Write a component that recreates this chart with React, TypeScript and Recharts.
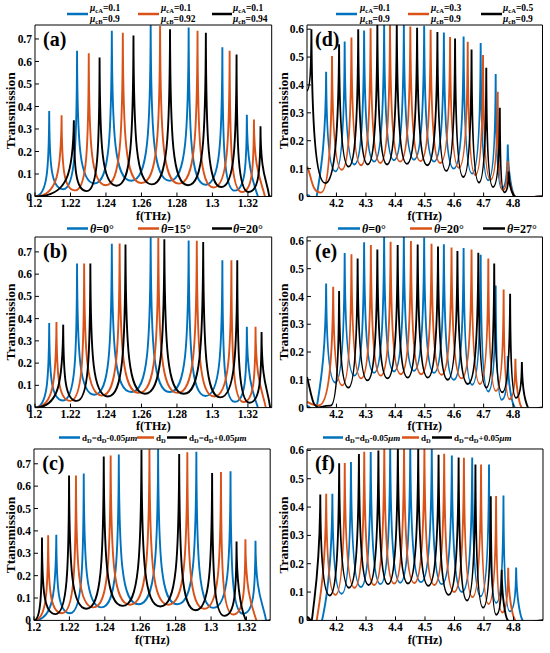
import React from 'react';
import { LineChart, Line, XAxis, YAxis } from 'recharts';

const FONT = '"Liberation Serif", "Times New Roman", Times, serif';
const BLUE = '#0072BD';
const ORANGE = '#D95319';
const BLACK = '#000000';

// ---------- axis ticks ----------
const lowXTicks = [1.2, 1.22, 1.24, 1.26, 1.28, 1.3, 1.32];
const lowYTicks = [0, 0.1, 0.2, 0.3, 0.4, 0.5, 0.6, 0.7];
const highXTicks = [4.2, 4.3, 4.4, 4.5, 4.6, 4.7, 4.8];
const highYTicks = [0, 0.1, 0.2, 0.3, 0.4, 0.5, 0.6];

// ---------- low band (a)(b)(c): peak f, peak T, dip T between peaks ----------
// reference curve: muCB=0.9 / theta=0 / dD
const lowRefPeakF = [1.208, 1.2237, 1.2433, 1.2652, 1.2866, 1.3056, 1.3194];
const lowRefPeakT = [0.38, 0.648, 0.737, 0.765, 0.751, 0.663, 0.363];
const lowRefDipT = [0.032, 0.058, 0.07, 0.07, 0.052, 0.026];
const lowRefHead = [[1.2, 0]];
const lowRefTail = [[1.3255, 0.003], [1.3334, 0]];

// (a) muCB = 0.92
const aMu92PeakF = [1.215, 1.2303, 1.2495, 1.2705, 1.2916, 1.3097, 1.3234];
const aMu92PeakT = [0.361, 0.636, 0.728, 0.758, 0.737, 0.648, 0.342];
const aMu92DipT = [0.027, 0.05, 0.06, 0.057, 0.04, 0.02];
const aMu92Head = [[1.2, 0]];
const aMu92Tail = [[1.3295, 0.003], [1.3334, 0]];

// (a) muCB = 0.94
const aMu94PeakF = [1.2219, 1.2364, 1.2555, 1.2761, 1.2963, 1.3136, 1.3271];
const aMu94PeakT = [0.339, 0.618, 0.715, 0.743, 0.728, 0.631, 0.312];
const aMu94DipT = [0.024, 0.048, 0.054, 0.05, 0.042, 0.02];
const aMu94Head = [[1.2, 0]];
const aMu94Tail = [[1.332, 0.002], [1.3334, 0]];

// (b) theta = 15
const bTh15PeakF = [1.2121, 1.2277, 1.2477, 1.2695, 1.2912, 1.3107, 1.3243];
const bTh15PeakT = [0.385, 0.648, 0.738, 0.763, 0.75, 0.663, 0.363];
const bTh15DipT = [0.03, 0.054, 0.066, 0.066, 0.05, 0.025];
const bTh15Head = [[1.2, 0]];
const bTh15Tail = [[1.33, 0.003], [1.3334, 0]];

// (b) theta = 20
const bTh20PeakF = [1.2159, 1.2312, 1.251, 1.2729, 1.2948, 1.314, 1.3277];
const bTh20PeakT = [0.373, 0.648, 0.733, 0.757, 0.745, 0.663, 0.34];
const bTh20DipT = [0.03, 0.05, 0.062, 0.062, 0.046, 0.022];
const bTh20Head = [[1.2, 0]];
const bTh20Tail = [[1.3325, 0.002], [1.3334, 0]];

// (c) dD - 0.05
const cMinusPeakF = [1.2126, 1.2281, 1.2479, 1.2701, 1.2917, 1.311, 1.3251];
const cMinusPeakT = [0.383, 0.656, 0.741, 0.766, 0.754, 0.666, 0.356];
const cMinusDipT = [0.032, 0.058, 0.072, 0.072, 0.056, 0.03];
const cMinusHead = [[1.2, 0]];
const cMinusTail = [[1.331, 0.003], [1.3334, 0]];

// (c) dD + 0.05
const cPlusPeakF = [1.2045, 1.2198, 1.2394, 1.2607, 1.282, 1.3006, 1.3144];
const cPlusPeakT = [0.371, 0.647, 0.733, 0.763, 0.744, 0.659, 0.353];
const cPlusDipT = [0.028, 0.052, 0.065, 0.062, 0.045, 0.02];
const cPlusHead = [[1.2, 0]];
const cPlusTail = [[1.3195, 0.003], [1.3334, 0]];

// ---------- high band (d)(e)(f) ----------
// reference curve: muCA=0.1 / theta=0 / dD
const highRefPeakF = [4.165, 4.228, 4.294, 4.362, 4.429, 4.498, 4.565, 4.632, 4.69, 4.741, 4.782];
const highRefPeakT = [0.447, 0.556, 0.595, 0.62, 0.62, 0.612, 0.588, 0.574, 0.55, 0.439, 0.186];
const highRefDipT = [0.09, 0.115, 0.125, 0.13, 0.132, 0.125, 0.1, 0.082, 0.058, 0.028];
const highRefHead = [[4.1, 0.006], [4.135, 0.014]];
const highRefTail = [[4.805, 0.002], [4.9, 0]];

// (d) muCA = 0.3
const dMu3PeakF = [4.185, 4.251, 4.316, 4.382, 4.451, 4.52, 4.586, 4.646, 4.698, 4.748, 4.782];
const dMu3PeakT = [0.504, 0.57, 0.603, 0.62, 0.61, 0.598, 0.572, 0.555, 0.507, 0.376, 0.127];
const dMu3DipT = [0.096, 0.112, 0.12, 0.125, 0.127, 0.12, 0.103, 0.077, 0.06, 0.022];
const dMu3Head = [[4.1, 0.108], [4.147, 0.014]];
const dMu3Tail = [[4.805, 0.002], [4.9, 0]];

// (d) muCA = 0.5
const dMu5PeakF = [4.115, 4.209, 4.274, 4.339, 4.405, 4.474, 4.543, 4.603, 4.659, 4.709, 4.755, 4.785];
const dMu5PeakT = [0.6, 0.546, 0.6, 0.62, 0.62, 0.605, 0.59, 0.567, 0.527, 0.462, 0.318, 0.09];
const dMu5DipT = [0.048, 0.107, 0.115, 0.115, 0.117, 0.112, 0.092, 0.07, 0.05, 0.034, 0.015];
const dMu5Head = [[4.1, 0.38]];
const dMu5Tail = [[4.805, 0.001], [4.9, 0]];

// (e) theta = 20
const eTh20PeakF = [4.189, 4.251, 4.317, 4.384, 4.453, 4.523, 4.591, 4.659, 4.716, 4.768, 4.808];
const eTh20PeakT = [0.435, 0.552, 0.585, 0.597, 0.6, 0.59, 0.576, 0.569, 0.537, 0.425, 0.176];
const eTh20DipT = [0.08, 0.105, 0.115, 0.12, 0.12, 0.118, 0.105, 0.085, 0.06, 0.03];
const eTh20Head = [[4.1, 0.02], [4.14, 0.008]];
const eTh20Tail = [[4.828, 0.002], [4.9, 0]];

// (e) theta = 27
const eTh27PeakF = [4.209, 4.272, 4.339, 4.408, 4.476, 4.545, 4.611, 4.682, 4.736, 4.79, 4.83];
const eTh27PeakT = [0.42, 0.537, 0.569, 0.585, 0.587, 0.58, 0.564, 0.557, 0.519, 0.41, 0.164];
const eTh27DipT = [0.072, 0.098, 0.105, 0.108, 0.108, 0.1, 0.085, 0.072, 0.055, 0.035];
const eTh27Head = [[4.1, 0.11], [4.125, 0.012], [4.18, 0.007]];
const eTh27Tail = [[4.85, 0.002], [4.9, 0]];

// (f) dD - 0.05
const fMinusPeakF = [4.186, 4.249, 4.316, 4.382, 4.45, 4.523, 4.591, 4.66, 4.717, 4.766, 4.809];
const fMinusPeakT = [0.447, 0.559, 0.594, 0.62, 0.62, 0.612, 0.582, 0.575, 0.55, 0.441, 0.187];
const fMinusDipT = [0.094, 0.118, 0.128, 0.133, 0.135, 0.128, 0.1, 0.085, 0.062, 0.032];
const fMinusHead = [[4.1, 0.005], [4.155, 0.02]];
const fMinusTail = [[4.83, 0.002], [4.9, 0]];

// (f) dD + 0.05
const fPlusPeakF = [4.145, 4.209, 4.276, 4.342, 4.408, 4.477, 4.546, 4.614, 4.671, 4.723, 4.76];
const fPlusPeakT = [0.444, 0.555, 0.587, 0.6, 0.62, 0.605, 0.585, 0.575, 0.55, 0.438, 0.179];
const fPlusDipT = [0.088, 0.115, 0.125, 0.128, 0.13, 0.122, 0.09, 0.07, 0.045, 0.02];
const fPlusHead = [[4.1, 0.012], [4.12, 0.03]];
const fPlusTail = [[4.78, 0.002], [4.9, 0]];

// ---------- build point lists from the readings ----------
type Pt = { x: number; y: number };
function build(head: number[][], pf: number[], pt: number[], dt: number[], tail: number[][]): Pt[] {
  const out: Pt[] = head.map(([x, y]) => ({ x, y }));
  pf.forEach((x, i) => {
    out.push({ x, y: pt[i] });
    if (i < dt.length) out.push({ x: (x + pf[i + 1]) / 2, y: dt[i] });
  });
  tail.forEach(([x, y]) => out.push({ x, y }));
  return out;
}

const lowRef = build(lowRefHead, lowRefPeakF, lowRefPeakT, lowRefDipT, lowRefTail);
const aMu92 = build(aMu92Head, aMu92PeakF, aMu92PeakT, aMu92DipT, aMu92Tail);
const aMu94 = build(aMu94Head, aMu94PeakF, aMu94PeakT, aMu94DipT, aMu94Tail);
const bTh15 = build(bTh15Head, bTh15PeakF, bTh15PeakT, bTh15DipT, bTh15Tail);
const bTh20 = build(bTh20Head, bTh20PeakF, bTh20PeakT, bTh20DipT, bTh20Tail);
const cMinus = build(cMinusHead, cMinusPeakF, cMinusPeakT, cMinusDipT, cMinusTail);
const cPlus = build(cPlusHead, cPlusPeakF, cPlusPeakT, cPlusDipT, cPlusTail);
const highRef = build(highRefHead, highRefPeakF, highRefPeakT, highRefDipT, highRefTail);
const dMu3 = build(dMu3Head, dMu3PeakF, dMu3PeakT, dMu3DipT, dMu3Tail);
const dMu5 = build(dMu5Head, dMu5PeakF, dMu5PeakT, dMu5DipT, dMu5Tail);
const eTh20 = build(eTh20Head, eTh20PeakF, eTh20PeakT, eTh20DipT, eTh20Tail);
const eTh27 = build(eTh27Head, eTh27PeakF, eTh27PeakT, eTh27DipT, eTh27Tail);
const fMinus = build(fMinusHead, fMinusPeakF, fMinusPeakT, fMinusDipT, fMinusTail);
const fPlus = build(fPlusHead, fPlusPeakF, fPlusPeakT, fPlusDipT, fPlusTail);

// ---------- resonance-style curve factory (sharp peaks, flat dips) ----------
function makeSpike(flat: number, sharp: number, lift: number) {
  return (ctx: any) => {
    let pts: number[][] = [];
    const draw = () => {
      const n = pts.length;
      if (!n) return;
      ctx.moveTo(pts[0][0], pts[0][1]);
      if (n === 1) return;
      const kind = pts.map((p, i) => {
        const a = pts[i - 1];
        const b = pts[i + 1];
        if (a && b) {
          if (p[1] < a[1] && p[1] < b[1]) return 'peak';
          if (p[1] >= a[1] && p[1] >= b[1]) return 'dip';
          return 'mono';
        }
        const q = a || b;
        return p[1] >= q[1] ? 'dip' : 'mono';
      });
      const slope = (i: number) => {
        const a = pts[Math.max(0, i - 1)];
        const b = pts[Math.min(n - 1, i + 1)];
        return b[0] === a[0] ? 0 : (b[1] - a[1]) / (b[0] - a[0]);
      };
      for (let i = 0; i < n - 1; i++) {
        const p = pts[i];
        const q = pts[i + 1];
        const dx = q[0] - p[0];
        const dy = q[1] - p[1];
        let c1x: number, c1y: number, c2x: number, c2y: number;
        if (kind[i] === 'peak') { c1x = p[0] + sharp * dx; c1y = p[1] + lift * dy; }
        else if (kind[i] === 'dip') { c1x = p[0] + flat * dx; c1y = p[1]; }
        else { const m = slope(i); c1x = p[0] + dx / 3; c1y = p[1] + (m * dx) / 3; }
        if (kind[i + 1] === 'peak') { c2x = q[0] - sharp * dx; c2y = q[1] - lift * dy; }
        else if (kind[i + 1] === 'dip') { c2x = q[0] - flat * dx; c2y = q[1]; }
        else { const m = slope(i + 1); c2x = q[0] - dx / 3; c2y = q[1] - (m * dx) / 3; }
        ctx.bezierCurveTo(c1x, c1y, c2x, c2y, q[0], q[1]);
      }
    };
    return {
      areaStart() {},
      areaEnd() {},
      lineStart() { pts = []; },
      lineEnd() { draw(); },
      point(x: number, y: number) { pts.push([+x, +y]); },
    };
  };
}
const lowCurve = makeSpike(0.85, 0.02, 0.7);
const highCurve = makeSpike(0.7, 0.04, 0.6);

const fmt = (v: number) => String(v);

type Series = { pts: Pt[]; color: string };
type PanelProps = {
  L: number; T: number; R: number; B: number;
  xd: [number, number]; xt: number[];
  yd: [number, number]; yt: number[];
  series: Series[]; curve: any;
};

function Panel({ L, T, R, B, xd, xt, yd, yt, series, curve }: PanelProps) {
  const YW = 34, XH = 18, MT = 9, MR = 4;
  const w = R - L + YW + MR;
  const h = B - T + MT + XH;
  const tickFont = { fill: '#000', fontSize: 11.5, fontWeight: 700, fontFamily: FONT };
  const ax = { stroke: '#000', strokeWidth: 1 };
  return (
    <div style={{ position: 'absolute', left: L - YW, top: T - MT, width: w, height: h }}>
      <LineChart width={w} height={h} margin={{ top: MT - 1, right: MR - 1, bottom: 0, left: 0 }}>
        <XAxis xAxisId="b" dataKey="x" type="number" domain={xd} ticks={xt} interval={0} allowDataOverflow
          height={XH} tickSize={-4} tickMargin={6} tick={tickFont} tickLine={ax} axisLine={ax} tickFormatter={fmt} />
        <XAxis xAxisId="t" orientation="top" dataKey="x" type="number" domain={xd} ticks={xt} interval={0} allowDataOverflow
          height={1} tickSize={-4} tick={false} tickLine={ax} axisLine={ax} />
        <YAxis yAxisId="l" type="number" domain={yd} ticks={yt} interval={0} allowDataOverflow
          width={YW} tickSize={-4} tickMargin={7} tick={tickFont} tickLine={ax} axisLine={ax} tickFormatter={fmt} />
        <YAxis yAxisId="r" orientation="right" type="number" domain={yd} ticks={yt} interval={0} allowDataOverflow
          width={1} tickSize={-4} tick={false} tickLine={ax} axisLine={ax} />
        {series.map((s, i) => (
          <Line key={i} xAxisId="b" yAxisId="l" data={s.pts} dataKey="y" type={curve} stroke={s.color}
            strokeWidth={1.9} dot={false} activeDot={false} isAnimationActive={false} />
        ))}
      </LineChart>
    </div>
  );
}

const LOWX: [number, number] = [1.2, 1.3334];
const HIGHX: [number, number] = [4.1, 4.9];

const Sw = ({ x1, x2, y, c }: { x1: number; x2: number; y: number; c: string }) => (
  <line x1={x1} x2={x2} y1={y} y2={y} stroke={c} strokeWidth={2.5} />
);

function MuLabel({ x, sub1, v1, sub2, v2 }: { x: number; sub1: string; v1: string; sub2: string; v2: string }) {
  return (
    <g>
      <text x={x} y={11} fontSize={9.5} fontWeight={700}>
        <tspan fontStyle="italic">μ</tspan>
        <tspan fontSize={6.5} dy={1.5}>{sub1}</tspan>
        <tspan dy={-1.5}>{v1}</tspan>
      </text>
      <text x={x} y={22} fontSize={9.5} fontWeight={700}>
        <tspan fontStyle="italic">μ</tspan>
        <tspan fontSize={6.5} dy={1.5}>{sub2}</tspan>
        <tspan dy={-1.5}>{v2}</tspan>
      </text>
    </g>
  );
}

function ThLabel({ x, y, v }: { x: number; y: number; v: string }) {
  return (
    <text x={x} y={y} fontSize={12} fontWeight={700}>
      <tspan fontStyle="italic">θ</tspan>
      <tspan>{v}</tspan>
    </text>
  );
}

function DLabel({ x, y, tail }: { x: number; y: number; tail: string }) {
  return (
    <text x={x} y={y} fontSize={9} fontWeight={700}>
      <tspan>d</tspan>
      <tspan fontSize={6.5} dy={2}>D</tspan>
      {tail ? (
        <>
          <tspan dy={-2}>=d</tspan>
          <tspan fontSize={6.5} dy={2}>D</tspan>
          <tspan dy={-2}>{tail}</tspan>
          <tspan fontStyle="italic">μm</tspan>
        </>
      ) : null}
    </text>
  );
}

export default function App() {
  const P = {
    a: { L: 35, T: 25, R: 271.7, B: 196.5 },
    b: { L: 35, T: 236.7, R: 271.7, B: 407.3 },
    c: { L: 34.3, T: 449.3, R: 270.5, B: 620.7 },
    d: { L: 307, T: 25, R: 542.5, B: 196.5 },
    e: { L: 307, T: 236.7, R: 542.5, B: 407.3 },
    f: { L: 307, T: 449.3, R: 543, B: 620.7 },
  };
  const keys = ['a', 'b', 'c', 'd', 'e', 'f'] as (keyof typeof P)[];
  const R2 = 228.5; // legend row 2 line y
  const R3 = 437.5; // legend row 3 line y
  return (
    <div style={{ position: 'absolute', left: 0, top: 0, width: 550, height: 653, background: '#fff', fontFamily: FONT }}>
      <Panel {...P.a} xd={LOWX} xt={lowXTicks} yd={[0, 0.762]} yt={lowYTicks} curve={lowCurve}
        series={[{ pts: lowRef, color: BLUE }, { pts: aMu92, color: ORANGE }, { pts: aMu94, color: BLACK }]} />
      <Panel {...P.b} xd={LOWX} xt={lowXTicks} yd={[0, 0.767]} yt={lowYTicks} curve={lowCurve}
        series={[{ pts: lowRef, color: BLUE }, { pts: bTh15, color: ORANGE }, { pts: bTh20, color: BLACK }]} />
      <Panel {...P.c} xd={LOWX} xt={lowXTicks} yd={[0, 0.766]} yt={lowYTicks} curve={lowCurve}
        series={[{ pts: cMinus, color: BLUE }, { pts: lowRef, color: ORANGE }, { pts: cPlus, color: BLACK }]} />
      <Panel {...P.d} xd={HIGHX} xt={highXTicks} yd={[0, 0.615]} yt={highYTicks} curve={highCurve}
        series={[{ pts: highRef, color: BLUE }, { pts: dMu3, color: ORANGE }, { pts: dMu5, color: BLACK }]} />
      <Panel {...P.e} xd={HIGHX} xt={highXTicks} yd={[0, 0.614]} yt={highYTicks} curve={highCurve}
        series={[{ pts: highRef, color: BLUE }, { pts: eTh20, color: ORANGE }, { pts: eTh27, color: BLACK }]} />
      <Panel {...P.f} xd={HIGHX} xt={highXTicks} yd={[0, 0.605]} yt={highYTicks} curve={highCurve}
        series={[{ pts: fMinus, color: BLUE }, { pts: highRef, color: ORANGE }, { pts: fPlus, color: BLACK }]} />

      <svg width={550} height={653} style={{ position: 'absolute', left: 0, top: 0, pointerEvents: 'none' }}
        fontFamily={FONT} fill="#000">
        {/* panel letters */}
        {keys.map((k) => (
          <text key={k} x={P[k].L + 8} y={P[k].T + 21} fontSize={20} fontWeight={700}>{`(${k})`}</text>
        ))}
        {/* y labels */}
        {keys.map((k) => {
          const left = P[k].L < 100;
          const cx = left ? 14.5 : 288;
          const cy = (P[k].T + P[k].B) / 2;
          return (
            <text key={'y' + k} transform={`translate(${cx},${cy}) rotate(-90)`} textAnchor="middle"
              fontSize={13.5} fontWeight={700}>{k === 'c' ? 'Ttansmission' : 'Transmission'}</text>
          );
        })}
        {/* x labels */}
        {keys.map((k) => (
          <text key={'x' + k} x={(P[k].L + P[k].R) / 2} y={P[k].B + 23} textAnchor="middle"
            fontSize={12} fontWeight={700}>f(THz)</text>
        ))}

        {/* legend (a) */}
        <Sw x1={67} x2={88} y={14} c={BLUE} />
        <MuLabel x={90} sub1="cA" v1="=0.1" sub2="cB" v2="=0.9" />
        <Sw x1={138} x2={159} y={14} c={ORANGE} />
        <MuLabel x={161} sub1="cA" v1="=0.1" sub2="cB" v2="=0.92" />
        <Sw x1={212} x2={232} y={14} c={BLACK} />
        <MuLabel x={233} sub1="cA" v1="=0.1" sub2="cB" v2="=0.94" />

        {/* legend (d) */}
        <Sw x1={336} x2={357} y={14} c={BLUE} />
        <MuLabel x={360} sub1="cA" v1="=0.1" sub2="cB" v2="=0.9" />
        <Sw x1={408} x2={429} y={14} c={ORANGE} />
        <MuLabel x={431} sub1="cA" v1="=0.3" sub2="cB" v2="=0.9" />
        <Sw x1={481} x2={502} y={14} c={BLACK} />
        <MuLabel x={503} sub1="cA" v1="=0.5" sub2="cB" v2="=0.9" />

        {/* legend (b) */}
        <Sw x1={67} x2={88} y={R2} c={BLUE} />
        <ThLabel x={90} y={R2 + 4.5} v="=0°" />
        <Sw x1={138} x2={159} y={R2} c={ORANGE} />
        <ThLabel x={161} y={R2 + 4.5} v="=15°" />
        <Sw x1={212} x2={232} y={R2} c={BLACK} />
        <ThLabel x={233} y={R2 + 4.5} v="=20°" />

        {/* legend (e) */}
        <Sw x1={338} x2={360} y={R2} c={BLUE} />
        <ThLabel x={362} y={R2 + 4.5} v="=0°" />
        <Sw x1={410} x2={432} y={R2} c={ORANGE} />
        <ThLabel x={434} y={R2 + 4.5} v="=20°" />
        <Sw x1={483} x2={505} y={R2} c={BLACK} />
        <ThLabel x={507} y={R2 + 4.5} v="=27°" />

        {/* legend (c) */}
        <Sw x1={59} x2={80} y={R3} c={BLUE} />
        <DLabel x={82} y={R3 + 3.5} tail="-0.05" />
        <Sw x1={137} x2={154} y={R3} c={ORANGE} />
        <DLabel x={156} y={R3 + 3.5} tail="" />
        <Sw x1={167} x2={187} y={R3} c={BLACK} />
        <DLabel x={189} y={R3 + 3.5} tail="+0.05" />

        {/* legend (f) */}
        <Sw x1={323} x2={343} y={R3} c={BLUE} />
        <DLabel x={345} y={R3 + 3.5} tail="-0.05" />
        <Sw x1={402} x2={419} y={R3} c={ORANGE} />
        <DLabel x={421} y={R3 + 3.5} tail="" />
        <Sw x1={432} x2={452} y={R3} c={BLACK} />
        <DLabel x={454} y={R3 + 3.5} tail="+0.05" />
      </svg>
    </div>
  );
}
